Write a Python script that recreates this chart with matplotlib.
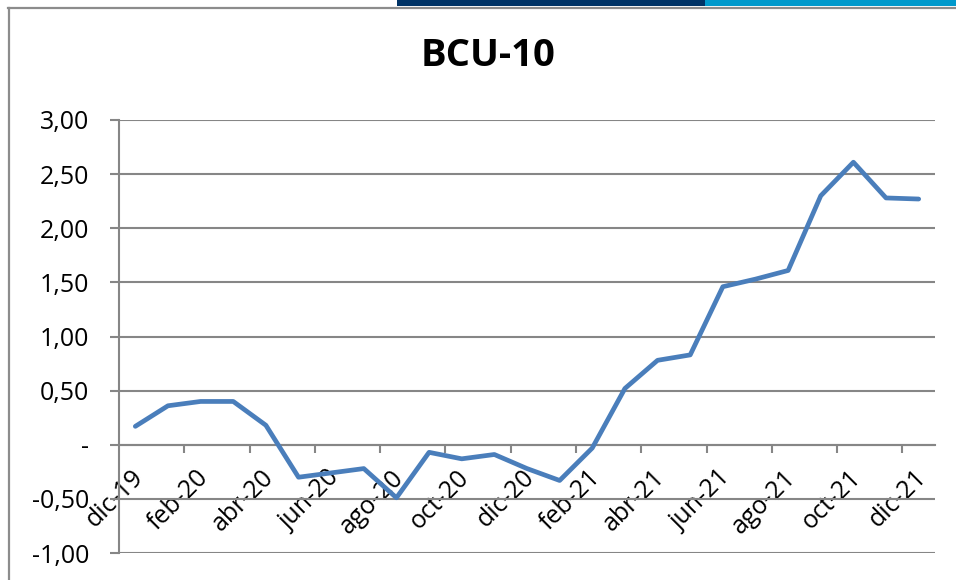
import matplotlib
matplotlib.use("Agg")
import matplotlib.pyplot as plt
from matplotlib.patches import Rectangle
from matplotlib.lines import Line2D
from matplotlib.ticker import FixedLocator, FuncFormatter
from matplotlib.transforms import ScaledTranslation

MONTHS = ["dic-19", "ene-20", "feb-20", "mar-20", "abr-20", "may-20", "jun-20",
          "jul-20", "ago-20", "sep-20", "oct-20", "nov-20", "dic-20", "ene-21",
          "feb-21", "mar-21", "abr-21", "may-21", "jun-21", "jul-21", "ago-21",
          "sep-21", "oct-21", "nov-21", "dic-21"]
BCU10 = [0.17, 0.36, 0.40, 0.40, 0.18, -0.30, -0.26, -0.22, -0.49, -0.07,
         -0.13, -0.09, -0.22, -0.33, -0.03, 0.52, 0.78, 0.83, 1.46, 1.53,
         1.61, 2.30, 2.61, 2.28, 2.27]
Y_TICKS = [-1.0, -0.5, 0.0, 0.5, 1.0, 1.5, 2.0, 2.5, 3.0]

LINE = "#4a7ebb"
GRID = "#868686"
FONT = "Open Sans"

W, H = 956, 580
fig = plt.figure(figsize=(W / 100, H / 100), dpi=100)

# slide decoration: coloured strip at top, grey frame round the chart
fig.patches.append(Rectangle((397 / W, 1 - 6 / H), 308 / W, 6 / H, transform=fig.transFigure,
                             facecolor="#003366", edgecolor="none"))
fig.patches.append(Rectangle((705 / W, 1 - 6 / H), 251 / W, 6 / H, transform=fig.transFigure,
                             facecolor="#0099cc", edgecolor="none"))
fig.add_artist(Line2D([8 / W, 1], [1 - 8 / H, 1 - 8 / H], color="#8c8c8c", lw=1.6))
fig.add_artist(Line2D([8.5 / W, 8.5 / W], [0, 1 - 8 / H], color="#8c8c8c", lw=1.6))

ax = fig.add_axes([119 / W, 1 - 553 / H, 816 / W, 433 / H])
x = list(range(len(MONTHS)))
ax.plot(x, BCU10, color=LINE, lw=3.4, solid_capstyle="round", zorder=3)

ax.set_xlim(-0.5, len(MONTHS) - 0.5)
ax.set_ylim(-1, 3)
ax.set_yticks(Y_TICKS)
ax.yaxis.set_major_formatter(FuncFormatter(
    lambda v, _: "-" if abs(v) < 1e-9 else f"{v:.2f}".replace(".", ",")))
ax.grid(axis="y", color=GRID, lw=1.5)
ax.set_axisbelow(True)

for s in ("top", "right"):
    ax.spines[s].set_visible(False)
ax.spines["left"].set_color(GRID)
ax.spines["left"].set_linewidth(1.5)
ax.spines["bottom"].set_position(("data", 0))
ax.spines["bottom"].set_color(GRID)
ax.spines["bottom"].set_linewidth(1.5)

ax.tick_params(axis="y", length=6.5, width=1.5, color=GRID, pad=15, labelsize=18)
ax.set_xticks(x[::2])
ax.set_xticklabels(MONTHS[::2], rotation=45, ha="right", va="center",
                   rotation_mode="anchor")
ax.xaxis.set_minor_locator(FixedLocator([i + 1.5 for i in range(0, len(MONTHS) - 1, 2)]))
ax.tick_params(axis="x", which="major", length=0, pad=21, labelsize=18)
ax.tick_params(axis="x", which="minor", length=6, width=1.5, color=GRID)
for lab in ax.get_xticklabels():
    lab.set_transform(lab.get_transform() + ScaledTranslation(0.04, 0, fig.dpi_scale_trans))
for lab in ax.get_xticklabels() + ax.get_yticklabels():
    lab.set_fontfamily(FONT)

fig.text(488 / W, 1 - 56 / H, "BCU-10", ha="center", va="center",
         fontsize=27.5, fontweight="bold", family=FONT)

fig.savefig("out.png", dpi=100)
